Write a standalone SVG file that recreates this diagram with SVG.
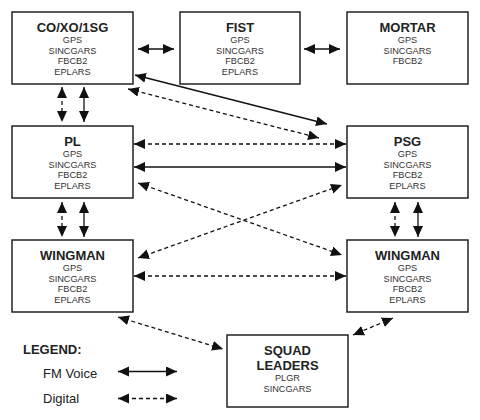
<svg xmlns="http://www.w3.org/2000/svg" width="480" height="420" viewBox="0 0 480 420">
<defs>
<marker id="ah" markerUnits="userSpaceOnUse" markerWidth="12" markerHeight="11" refX="11" refY="5" orient="auto-start-reverse">
<path d="M0,0 L11,5 L0,10 Z" fill="#111"/>
</marker>
</defs>
<style>
.box{fill:#fff;stroke:#222;stroke-width:1.5}
.t{font-family:"Liberation Sans",Arial,sans-serif;font-weight:bold;font-size:13px;fill:#222;text-anchor:middle}
.s{font-family:"Liberation Sans",Arial,sans-serif;font-size:9.2px;fill:#333;text-anchor:middle}
.l{font-family:"Liberation Sans",Arial,sans-serif;font-size:13px;fill:#222}
.fm{stroke:#111;stroke-width:1.3;fill:none;marker-start:url(#ah);marker-end:url(#ah)}
.dg{stroke:#111;stroke-width:1.3;fill:none;stroke-dasharray:4,3;marker-start:url(#ah);marker-end:url(#ah)}
</style>
<rect width="480" height="420" fill="#fff"/>
<g id="co">
<rect class="box" x="12" y="12" width="121" height="72"/>
<text class="t" x="72.5" y="32">CO/XO/1SG</text>
<text class="s" x="72.5" y="43">GPS</text>
<text class="s" x="72.5" y="53.5">SINCGARS</text>
<text class="s" x="72.5" y="64">FBCB2</text>
<text class="s" x="72.5" y="74.5">EPLARS</text>
</g>
<g id="fist">
<rect class="box" x="180" y="12" width="120" height="72"/>
<text class="t" x="240" y="32">FIST</text>
<text class="s" x="240" y="43">GPS</text>
<text class="s" x="240" y="53.5">SINCGARS</text>
<text class="s" x="240" y="64">FBCB2</text>
<text class="s" x="240" y="74.5">EPLARS</text>
</g>
<g id="mortar">
<rect class="box" x="347" y="12" width="121" height="72"/>
<text class="t" x="407.5" y="32">MORTAR</text>
<text class="s" x="407.5" y="43">GPS</text>
<text class="s" x="407.5" y="53.5">SINCGARS</text>
<text class="s" x="407.5" y="64">FBCB2</text>
</g>
<g id="pl">
<rect class="box" x="12" y="126" width="121" height="72"/>
<text class="t" x="72.5" y="146">PL</text>
<text class="s" x="72.5" y="157">GPS</text>
<text class="s" x="72.5" y="167.5">SINCGARS</text>
<text class="s" x="72.5" y="178">FBCB2</text>
<text class="s" x="72.5" y="188.5">EPLARS</text>
</g>
<g id="psg">
<rect class="box" x="347" y="126" width="121" height="72"/>
<text class="t" x="407.5" y="146">PSG</text>
<text class="s" x="407.5" y="157">GPS</text>
<text class="s" x="407.5" y="167.5">SINCGARS</text>
<text class="s" x="407.5" y="178">FBCB2</text>
<text class="s" x="407.5" y="188.5">EPLARS</text>
</g>
<g id="wingman-left">
<rect class="box" x="12" y="240" width="121" height="72"/>
<text class="t" x="72.5" y="260">WINGMAN</text>
<text class="s" x="72.5" y="271">GPS</text>
<text class="s" x="72.5" y="281.5">SINCGARS</text>
<text class="s" x="72.5" y="292">FBCB2</text>
<text class="s" x="72.5" y="302.5">EPLARS</text>
</g>
<g id="wingman-right">
<rect class="box" x="347" y="240" width="121" height="72"/>
<text class="t" x="407.5" y="260">WINGMAN</text>
<text class="s" x="407.5" y="271">GPS</text>
<text class="s" x="407.5" y="281.5">SINCGARS</text>
<text class="s" x="407.5" y="292">FBCB2</text>
<text class="s" x="407.5" y="302.5">EPLARS</text>
</g>
<g id="squad">
<rect class="box" x="227" y="335" width="121" height="72"/>
<text class="t" x="287.5" y="355">SQUAD</text>
<text class="t" x="287.5" y="370">LEADERS</text>
<text class="s" x="287.5" y="381">PLGR</text>
<text class="s" x="287.5" y="391.5">SINCGARS</text>
</g>
<g id="legend">
<text class="t" x="23" y="354" style="text-anchor:start">LEGEND:</text>
<text class="l" x="43" y="378">FM Voice</text>
<text class="l" x="43" y="403">Digital</text>
<line class="fm" x1="118" y1="371.5" x2="177" y2="371.5"/>
<line class="dg" x1="118" y1="398.5" x2="177" y2="398.5"/>
</g>
<g id="connectors">
<line class="fm" x1="138" y1="49" x2="174" y2="49"/>
<line class="fm" x1="304" y1="49" x2="340" y2="49"/>
<line class="dg" x1="62" y1="87" x2="62" y2="122"/>
<line class="fm" x1="84" y1="87" x2="84" y2="122"/>
<line class="dg" x1="62" y1="202" x2="62" y2="237"/>
<line class="fm" x1="84" y1="202" x2="84" y2="237"/>
<line class="dg" x1="395" y1="202" x2="395" y2="237"/>
<line class="fm" x1="418" y1="202" x2="418" y2="237"/>
<line class="fm" x1="135" y1="75" x2="327" y2="124"/>
<line class="dg" x1="128" y1="89" x2="319" y2="138"/>
<line class="dg" x1="134" y1="144" x2="346" y2="144"/>
<line class="fm" x1="134" y1="167" x2="346" y2="167"/>
<line class="dg" x1="138" y1="183" x2="342" y2="255"/>
<line class="dg" x1="138" y1="258" x2="342" y2="185"/>
<line class="dg" x1="134" y1="276" x2="346" y2="276"/>
<line class="dg" x1="118" y1="317" x2="223" y2="349"/>
<line class="dg" x1="393" y1="318" x2="353" y2="335"/>
</g>
</svg>
